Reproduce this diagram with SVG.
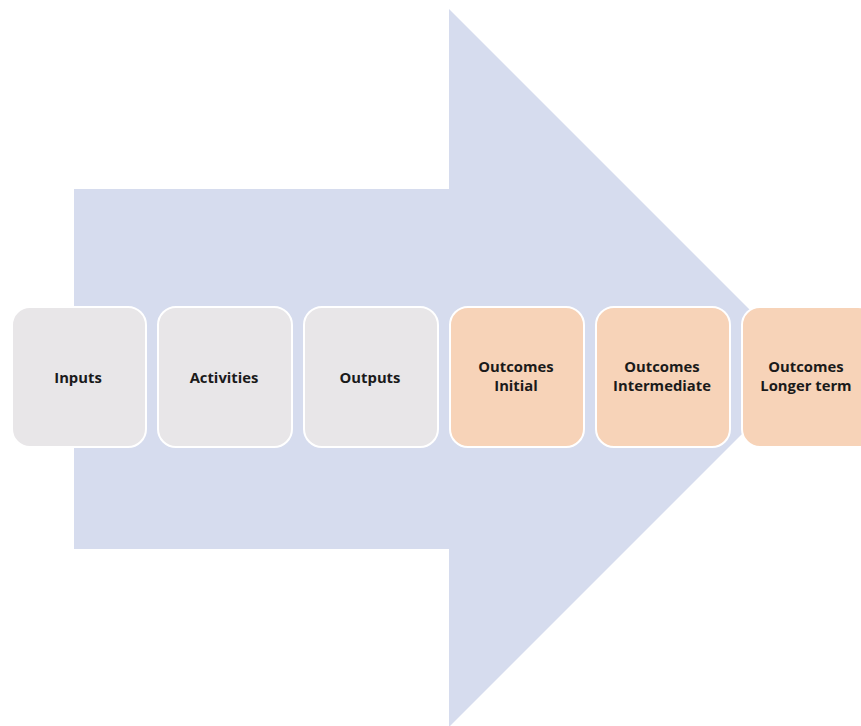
<svg xmlns="http://www.w3.org/2000/svg" width="861" height="726" viewBox="0 0 861 726">
<style>
.box{stroke:#ffffff;stroke-width:2}
.g{fill:#E8E6E8}
.o{fill:#F7D3B8}
text{font-family:"Open Sans","Liberation Sans",sans-serif;font-weight:bold;font-size:14.8px;fill:#1a1a1a;text-anchor:middle}
</style>
<rect width="861" height="726" fill="#ffffff"/>
<g id="arrow">
<polygon points="74,189 449,189 449,9 808,368 449,727 449,549 74,549" fill="#D6DCEE"/>
</g>
<g id="connectors"></g>
<g id="inputs"><rect class="box g" x="12" y="307" width="134" height="140" rx="18"/><text x="78" y="383">Inputs</text></g>
<g id="activities"><rect class="box g" x="158" y="307" width="134" height="140" rx="18"/><text x="224" y="383">Activities</text></g>
<g id="outputs"><rect class="box g" x="304" y="307" width="134" height="140" rx="18"/><text x="370" y="383">Outputs</text></g>
<g id="outcomes-initial"><rect class="box o" x="450" y="307" width="134" height="140" rx="18"/><text x="516" y="372">Outcomes</text><text x="516" y="391">Initial</text></g>
<g id="outcomes-intermediate"><rect class="box o" x="596" y="307" width="134" height="140" rx="18"/><text x="662" y="372">Outcomes</text><text x="662" y="391">Intermediate</text></g>
<g id="outcomes-longer"><rect class="box o" x="742" y="307" width="134" height="140" rx="18"/><text x="806" y="372">Outcomes</text><text x="806" y="391">Longer term</text></g>
</svg>
